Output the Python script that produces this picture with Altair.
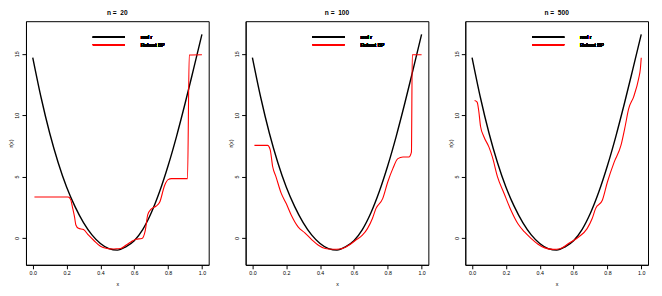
import altair as alt
import pandas as pd

# true regression function r(x)
true_x = [0.0, 0.05, 0.1, 0.15, 0.2, 0.25, 0.3, 0.35, 0.4, 0.45, 0.5,
          0.55, 0.6, 0.65, 0.7, 0.75, 0.8, 0.85, 0.9, 0.95, 1.0]
true_r = [14.7, 11.4, 8.55, 6.15, 4.15, 2.55, 1.25, 0.25, -0.45, -0.87, -0.99,
          -0.72, -0.22, 0.68, 2.03, 3.78, 5.88, 8.28, 10.93, 13.73, 16.58]

# Robust BP estimates
n20_x = [0.01, 0.10, 0.21, 0.225, 0.235, 0.247, 0.255, 0.27, 0.30, 0.33, 0.36,
         0.40, 0.44, 0.47, 0.50, 0.52, 0.55, 0.58, 0.61, 0.645, 0.665, 0.68,
         0.70, 0.73, 0.75, 0.78, 0.80, 0.82, 0.915, 0.925, 1.0]
n20_r = [3.34, 3.34, 3.34, 3.1, 2.5, 1.71, 1.05, 0.78, 0.68, 0.22, -0.19,
         -0.68, -0.86, -0.9, -0.88, -0.86, -0.6, -0.33, -0.1, -0.05, 0.6, 1.9,
         2.35, 2.6, 2.9, 4.3, 4.75, 4.83, 4.83, 14.9, 14.92]

n100_x = [0.012, 0.09, 0.105, 0.12, 0.14, 0.17, 0.20, 0.23, 0.27, 0.31, 0.35,
          0.39, 0.43, 0.47, 0.52, 0.57, 0.61, 0.65, 0.68, 0.71, 0.73, 0.77,
          0.80, 0.83, 0.86, 0.89, 0.925, 0.94, 0.945, 1.0]
n100_r = [7.54, 7.54, 7.2, 5.8, 4.96, 3.65, 2.8, 1.85, 0.9, 0.41, -0.13,
          -0.59, -0.86, -0.92, -0.9, -0.6, -0.19, 0.22, 0.76, 1.6, 2.39, 3.2,
          4.56, 5.65, 6.46, 6.59, 6.6, 7.0, 14.92, 14.92]

n500_x = [0.015, 0.03, 0.04, 0.05, 0.07, 0.10, 0.12, 0.15, 0.19, 0.23, 0.27,
          0.31, 0.35, 0.39, 0.43, 0.48, 0.52, 0.57, 0.63, 0.68, 0.71, 0.73,
          0.77, 0.80, 0.84, 0.88, 0.905, 0.925, 0.955, 0.985, 0.995, 1.0]
n500_r = [11.2, 11.07, 10.3, 9.1, 8.25, 7.4, 6.6, 5.0, 3.6, 2.25, 1.17,
          0.49, -0.05, -0.51, -0.81, -0.93, -0.88, -0.46, 0.08, 0.76, 1.58, 2.39,
          3.07, 4.56, 6.18, 7.54, 9.1, 10.5, 11.5, 13.0, 13.8, 14.68]

titles = ["n =\u00a0 20", "n =\u00a0 100", "n =\u00a0 500"]
estimates = [(n20_x, n20_r), (n100_x, n100_r), (n500_x, n500_r)]

legend_labels = ["real r", "Robust BP"]
legend_colors = ["black", "#ff0000"]

x_ticks = [0.0, 0.2, 0.4, 0.6, 0.8, 1.0]
y_ticks = [0, 5, 10, 15]

FONT = "Liberation Sans"
W, H = 183, 244


def panel(title, xs, rs):
    df_true = pd.DataFrame({"x": true_x, "r": true_r})
    df_est = pd.DataFrame({"x": xs, "r": rs})
    xscale = alt.Scale(domain=[-0.04, 1.04], nice=False, zero=False)
    yscale = alt.Scale(domain=[-2.19, 17.66], nice=False, zero=False)
    xaxis = alt.Axis(values=x_ticks, format=".1f", title="x", titlePadding=5,
                     labelOverlap=False, labelFlush=False, labelBound=False)
    yaxis = alt.Axis(values=y_ticks, title="r(x)", labelAngle=-90,
                     labelAlign="center", labelBaseline="bottom",
                     labelOverlap=False, labelFlush=False, titlePadding=1)
    enc = dict(
        x=alt.X("x:Q", scale=xscale, axis=xaxis),
        y=alt.Y("r:Q", scale=yscale, axis=yaxis),
    )
    true_line = alt.Chart(df_true).mark_line(
        color=legend_colors[0], strokeWidth=1.4, interpolate="monotone"
    ).encode(**enc)
    est_line = alt.Chart(df_est).mark_line(
        color=legend_colors[1], strokeWidth=1.1, interpolate="monotone"
    ).encode(**enc)
    layers = [true_line, est_line]
    for i, (lab, col) in enumerate(zip(legend_labels, legend_colors)):
        yy = 16 + 7.5 * i
        layers.append(
            alt.Chart(df_true).mark_rule(color=col, strokeWidth=1.4, opacity=0.75).encode(
                x=alt.value(67), x2=alt.value(99), y=alt.value(yy)
            )
        )
        layers.append(
            alt.Chart(df_true).mark_text(
                text=lab, align="left", baseline="middle", font=FONT,
                fontSize=5, color="black"
            ).encode(x=alt.value(115), y=alt.value(yy))
        )
    return alt.layer(*layers).properties(
        width=W, height=H,
        title=alt.TitleParams(title, fontSize=6.6, fontWeight="bold", font=FONT,
                              offset=5, anchor="middle", color="black"),
    )


panels = [panel(t, xs, rs) for t, (xs, rs) in zip(titles, estimates)]

chart = alt.hconcat(*panels, spacing=37, bounds="flush").properties(
    padding={"left": 0, "top": 0, "right": 5, "bottom": 0}
).configure_view(
    stroke="black", strokeWidth=1
).configure_axis(
    labelFont=FONT, labelFontSize=5.3, labelColor="black",
    titleFont=FONT, titleFontSize=5.3, titleColor="black", titleFontWeight="normal",
    tickSize=4, tickColor="black", domainColor="black", labelPadding=2,
    grid=False, labelOverlap=False, labelSeparation=0,
).configure_axisX(
    labelOverlap=False, tickCount=6
)

chart.save("out.html", embed_options={"renderer": "svg", "actions": False})
